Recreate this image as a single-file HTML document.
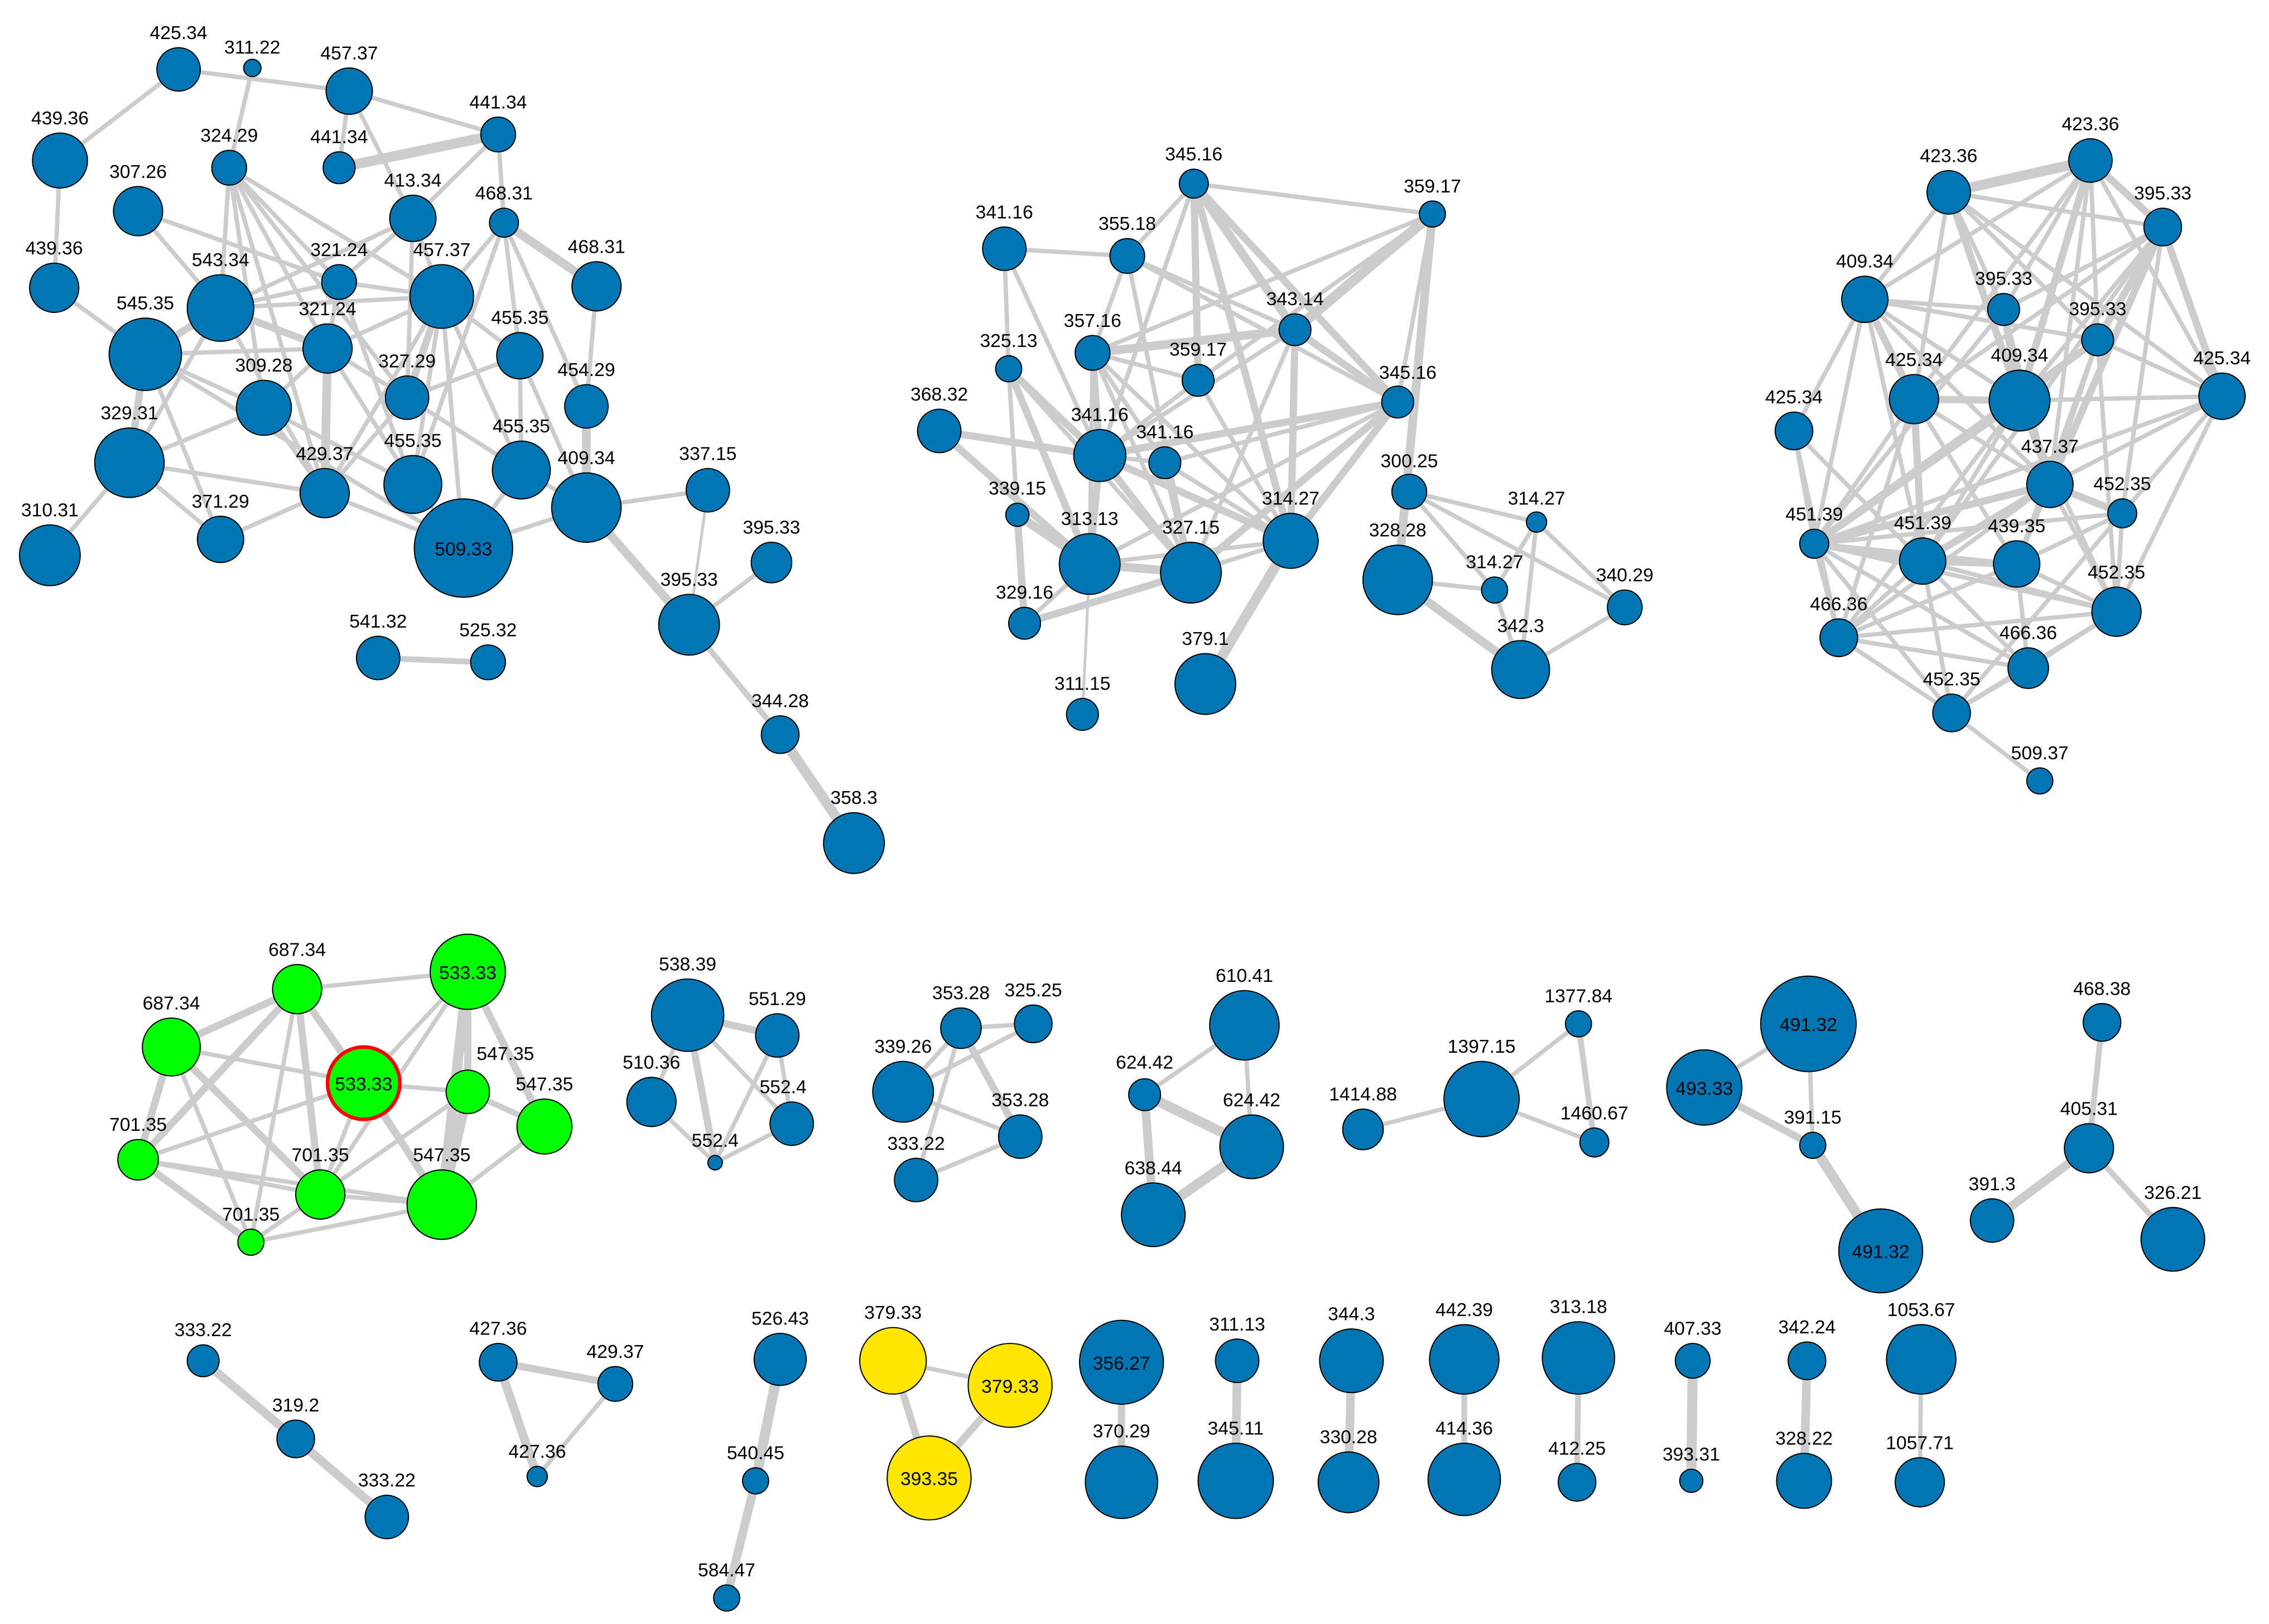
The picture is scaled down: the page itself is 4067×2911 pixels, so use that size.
<!DOCTYPE html>
<html><head><meta charset="utf-8"><style>
html,body{margin:0;padding:0;background:#fff;}
svg{display:block}
text{font-family:"Liberation Sans",Arial,sans-serif;font-size:13px;fill:#000;text-anchor:middle}
.e line{stroke:#cccccc;stroke-width:3}
.b circle{fill:#0077b4;stroke:#000;stroke-width:0.8}
</style></head><body>
<svg width="4067" height="2911" viewBox="0 0 1568 1123" xmlns="http://www.w3.org/2000/svg">
<rect width="1568" height="1123" fill="#fff"/>
<g class="e">
<!-- cluster 1 -->
<line x1="123" y1="48" x2="41" y2="111"/><line x1="123" y1="48" x2="241" y2="63"/>
<line x1="174" y1="47" x2="158" y2="116"/><line x1="241" y1="63" x2="344" y2="93"/>
<line x1="241" y1="63" x2="234" y2="116"/><line x1="241" y1="63" x2="285" y2="151"/>
<line x1="344" y1="93" x2="234" y2="116" style="stroke-width:7"/><line x1="344" y1="93" x2="285" y2="151"/>
<line x1="344" y1="93" x2="348" y2="154"/><line x1="41" y1="111" x2="37" y2="199"/>
<line x1="95" y1="146" x2="234" y2="195"/><line x1="95" y1="146" x2="152" y2="213"/>
<line x1="158" y1="116" x2="152" y2="213"/><line x1="158" y1="116" x2="234" y2="195"/>
<line x1="158" y1="116" x2="226" y2="241"/><line x1="158" y1="116" x2="182" y2="282"/>
<line x1="158" y1="116" x2="224" y2="341"/><line x1="158" y1="116" x2="305" y2="205"/>
<line x1="158" y1="116" x2="281" y2="275"/>
<line x1="285" y1="151" x2="234" y2="195"/><line x1="285" y1="151" x2="305" y2="205"/>
<line x1="285" y1="151" x2="281" y2="275"/><line x1="285" y1="151" x2="152" y2="213"/>
<line x1="348" y1="154" x2="305" y2="205"/><line x1="348" y1="154" x2="412" y2="198" style="stroke-width:6"/>
<line x1="348" y1="154" x2="359" y2="246"/><line x1="348" y1="154" x2="285" y2="335"/>
<line x1="348" y1="154" x2="405" y2="281"/>
<line x1="234" y1="195" x2="152" y2="213"/><line x1="234" y1="195" x2="226" y2="241"/>
<line x1="234" y1="195" x2="305" y2="205"/><line x1="234" y1="195" x2="285" y2="335"/>
<line x1="152" y1="213" x2="100" y2="245" style="stroke-width:5"/><line x1="152" y1="213" x2="226" y2="241" style="stroke-width:5"/>
<line x1="152" y1="213" x2="224" y2="341"/><line x1="152" y1="213" x2="89" y2="320"/>
<line x1="152" y1="213" x2="305" y2="205"/>
<line x1="37" y1="199" x2="100" y2="245"/>
<line x1="100" y1="245" x2="89" y2="320" style="stroke-width:5"/><line x1="100" y1="245" x2="182" y2="282"/>
<line x1="100" y1="245" x2="320" y2="379"/><line x1="100" y1="245" x2="226" y2="241"/>
<line x1="100" y1="245" x2="152" y2="373"/>
<line x1="226" y1="241" x2="281" y2="275"/><line x1="226" y1="241" x2="224" y2="341" style="stroke-width:6"/>
<line x1="226" y1="241" x2="285" y2="335"/><line x1="226" y1="241" x2="305" y2="205"/>
<line x1="226" y1="241" x2="182" y2="282"/>
<line x1="305" y1="205" x2="281" y2="275" style="stroke-width:5"/><line x1="305" y1="205" x2="285" y2="335"/>
<line x1="305" y1="205" x2="224" y2="341"/><line x1="305" y1="205" x2="359" y2="246"/>
<line x1="305" y1="205" x2="320" y2="379"/><line x1="305" y1="205" x2="360" y2="325"/>
<line x1="359" y1="246" x2="360" y2="325"/><line x1="359" y1="246" x2="405" y2="351"/>
<line x1="359" y1="246" x2="281" y2="275"/>
<line x1="412" y1="198" x2="405" y2="281"/><line x1="405" y1="281" x2="405" y2="351" style="stroke-width:6"/>
<line x1="360" y1="325" x2="405" y2="351"/><line x1="281" y1="275" x2="360" y2="325"/>
<line x1="281" y1="275" x2="224" y2="341"/>
<line x1="89" y1="320" x2="152" y2="373"/><line x1="89" y1="320" x2="34" y2="384"/>
<line x1="89" y1="320" x2="224" y2="341"/><line x1="89" y1="320" x2="182" y2="282"/>
<line x1="224" y1="341" x2="152" y2="373"/><line x1="224" y1="341" x2="320" y2="379"/>
<line x1="182" y1="282" x2="224" y2="341"/><line x1="182" y1="282" x2="285" y2="335"/>
<line x1="285" y1="335" x2="320" y2="379"/><line x1="360" y1="325" x2="320" y2="379"/>
<line x1="405" y1="351" x2="320" y2="379"/><line x1="405" y1="351" x2="489" y2="339"/>
<line x1="405" y1="351" x2="476" y2="432" style="stroke-width:6"/>
<line x1="489" y1="339" x2="476" y2="432" style="stroke-width:2"/><line x1="533" y1="389" x2="476" y2="432"/>
<line x1="476" y1="432" x2="539" y2="508" style="stroke-width:4"/><line x1="539" y1="508" x2="590" y2="583" style="stroke-width:7"/>
<line x1="261" y1="455" x2="337" y2="458" style="stroke-width:4"/>
<!-- cluster 2 -->
<line x1="825" y1="127" x2="990" y2="148"/><line x1="825" y1="127" x2="779" y2="177"/>
<line x1="825" y1="127" x2="895" y2="228" style="stroke-width:6"/><line x1="825" y1="127" x2="966" y2="278" style="stroke-width:5"/>
<line x1="825" y1="127" x2="892" y2="374" style="stroke-width:5"/><line x1="825" y1="127" x2="828" y2="263" style="stroke-width:5"/>
<line x1="825" y1="127" x2="760" y2="315"/>
<line x1="990" y1="148" x2="895" y2="228" style="stroke-width:7"/><line x1="990" y1="148" x2="755" y2="244"/>
<line x1="990" y1="148" x2="966" y2="278"/><line x1="990" y1="148" x2="966" y2="401" style="stroke-width:6"/>
<line x1="990" y1="148" x2="828" y2="263"/>
<line x1="694" y1="172" x2="779" y2="177"/><line x1="694" y1="172" x2="697" y2="255"/>
<line x1="694" y1="172" x2="760" y2="315"/>
<line x1="779" y1="177" x2="755" y2="244"/><line x1="779" y1="177" x2="966" y2="278"/>
<line x1="779" y1="177" x2="823" y2="396"/><line x1="779" y1="177" x2="895" y2="228"/>
<line x1="895" y1="228" x2="755" y2="244" style="stroke-width:6"/><line x1="895" y1="228" x2="760" y2="315"/>
<line x1="895" y1="228" x2="892" y2="374" style="stroke-width:5"/><line x1="895" y1="228" x2="966" y2="278" style="stroke-width:5"/>
<line x1="895" y1="228" x2="823" y2="396"/>
<line x1="755" y1="244" x2="828" y2="263"/><line x1="755" y1="244" x2="760" y2="315" style="stroke-width:5"/>
<line x1="755" y1="244" x2="823" y2="396"/><line x1="755" y1="244" x2="892" y2="374"/>
<line x1="755" y1="244" x2="805" y2="320"/><line x1="755" y1="244" x2="753" y2="390"/>
<line x1="828" y1="263" x2="760" y2="315"/><line x1="828" y1="263" x2="892" y2="374"/>
<line x1="697" y1="255" x2="760" y2="315" style="stroke-width:5"/><line x1="697" y1="255" x2="703" y2="356"/>
<line x1="697" y1="255" x2="753" y2="390" style="stroke-width:5"/><line x1="697" y1="255" x2="823" y2="396"/>
<line x1="966" y1="278" x2="760" y2="315" style="stroke-width:5"/><line x1="966" y1="278" x2="805" y2="320"/>
<line x1="966" y1="278" x2="892" y2="374" style="stroke-width:5"/><line x1="966" y1="278" x2="753" y2="390"/>
<line x1="966" y1="278" x2="823" y2="396" style="stroke-width:5"/>
<line x1="649" y1="298" x2="760" y2="315" style="stroke-width:5"/><line x1="649" y1="298" x2="753" y2="390" style="stroke-width:5"/>
<line x1="760" y1="315" x2="805" y2="320"/><line x1="760" y1="315" x2="892" y2="374" style="stroke-width:5"/>
<line x1="760" y1="315" x2="753" y2="390" style="stroke-width:5"/><line x1="760" y1="315" x2="823" y2="396" style="stroke-width:5"/>
<line x1="805" y1="320" x2="823" y2="396" style="stroke-width:5"/><line x1="805" y1="320" x2="892" y2="374"/>
<line x1="892" y1="374" x2="833" y2="473" style="stroke-width:7"/><line x1="892" y1="374" x2="823" y2="396"/>
<line x1="892" y1="374" x2="753" y2="390"/>
<line x1="753" y1="390" x2="823" y2="396" style="stroke-width:6"/><line x1="703" y1="356" x2="708" y2="431" style="stroke-width:5"/>
<line x1="703" y1="356" x2="753" y2="390" style="stroke-width:6"/><line x1="708" y1="431" x2="823" y2="396" style="stroke-width:5"/>
<line x1="753" y1="390" x2="748" y2="494" style="stroke-width:2"/><line x1="708" y1="431" x2="753" y2="390"/>
<line x1="966" y1="401" x2="1051" y2="463" style="stroke-width:6"/><line x1="974" y1="340" x2="1033" y2="408"/>
<line x1="974" y1="340" x2="1123" y2="420"/><line x1="1062" y1="361" x2="1033" y2="408"/>
<line x1="1062" y1="361" x2="1123" y2="420"/><line x1="1062" y1="361" x2="1051" y2="463"/>
<line x1="1033" y1="408" x2="1051" y2="463"/><line x1="1123" y1="420" x2="1051" y2="463"/>
<line x1="966" y1="401" x2="1033" y2="408"/><line x1="974" y1="340" x2="1062" y2="361"/>
<!-- cluster 3 -->
<line x1="1347" y1="133" x2="1445" y2="111" style="stroke-width:7"/><line x1="1347" y1="133" x2="1289" y2="207"/>
<line x1="1347" y1="133" x2="1385" y2="214"/><line x1="1347" y1="133" x2="1396" y2="277" style="stroke-width:5"/>
<line x1="1347" y1="133" x2="1450" y2="235"/><line x1="1347" y1="133" x2="1536" y2="274"/>
<line x1="1347" y1="133" x2="1323" y2="276"/><line x1="1347" y1="133" x2="1495" y2="157"/>
<line x1="1445" y1="111" x2="1495" y2="157" style="stroke-width:5"/><line x1="1445" y1="111" x2="1289" y2="207"/>
<line x1="1445" y1="111" x2="1385" y2="214"/><line x1="1445" y1="111" x2="1450" y2="235"/>
<line x1="1445" y1="111" x2="1396" y2="277" style="stroke-width:5"/><line x1="1445" y1="111" x2="1536" y2="274"/>
<line x1="1445" y1="111" x2="1323" y2="276"/><line x1="1445" y1="111" x2="1417" y2="335"/>
<line x1="1495" y1="157" x2="1385" y2="214"/><line x1="1495" y1="157" x2="1450" y2="235" style="stroke-width:5"/>
<line x1="1495" y1="157" x2="1396" y2="277"/><line x1="1495" y1="157" x2="1536" y2="274" style="stroke-width:5"/>
<line x1="1495" y1="157" x2="1417" y2="335" style="stroke-width:5"/><line x1="1495" y1="157" x2="1329" y2="388"/>
<line x1="1495" y1="157" x2="1467" y2="355"/><line x1="1495" y1="157" x2="1323" y2="276"/>
<line x1="1289" y1="207" x2="1385" y2="214"/><line x1="1289" y1="207" x2="1323" y2="276" style="stroke-width:5"/>
<line x1="1289" y1="207" x2="1396" y2="277"/><line x1="1289" y1="207" x2="1240" y2="298"/>
<line x1="1289" y1="207" x2="1254" y2="376"/><line x1="1289" y1="207" x2="1417" y2="335"/>
<line x1="1289" y1="207" x2="1450" y2="235"/><line x1="1289" y1="207" x2="1329" y2="388"/>
<line x1="1385" y1="214" x2="1396" y2="277" style="stroke-width:5"/><line x1="1385" y1="214" x2="1254" y2="376"/>
<line x1="1385" y1="214" x2="1417" y2="335"/>
<line x1="1450" y1="235" x2="1396" y2="277"/><line x1="1450" y1="235" x2="1536" y2="274"/>
<line x1="1450" y1="235" x2="1417" y2="335"/><line x1="1450" y1="235" x2="1254" y2="376" style="stroke-width:5"/>
<line x1="1450" y1="235" x2="1394" y2="390"/><line x1="1450" y1="235" x2="1463" y2="423"/>
<line x1="1323" y1="276" x2="1396" y2="277" style="stroke-width:5"/><line x1="1323" y1="276" x2="1254" y2="376"/>
<line x1="1323" y1="276" x2="1329" y2="388" style="stroke-width:5"/><line x1="1323" y1="276" x2="1417" y2="335"/>
<line x1="1323" y1="276" x2="1394" y2="390"/><line x1="1323" y1="276" x2="1271" y2="441"/>
<line x1="1396" y1="277" x2="1254" y2="376" style="stroke-width:5"/><line x1="1396" y1="277" x2="1329" y2="388"/>
<line x1="1396" y1="277" x2="1417" y2="335"/><line x1="1396" y1="277" x2="1536" y2="274"/>
<line x1="1396" y1="277" x2="1463" y2="423"/><line x1="1396" y1="277" x2="1271" y2="441"/>
<line x1="1536" y1="274" x2="1417" y2="335"/><line x1="1536" y1="274" x2="1467" y2="355"/>
<line x1="1536" y1="274" x2="1463" y2="423"/><line x1="1536" y1="274" x2="1254" y2="376"/>
<line x1="1240" y1="298" x2="1254" y2="376"/><line x1="1240" y1="298" x2="1271" y2="441"/>
<line x1="1240" y1="298" x2="1329" y2="388"/>
<line x1="1417" y1="335" x2="1254" y2="376" style="stroke-width:5"/><line x1="1417" y1="335" x2="1329" y2="388" style="stroke-width:5"/>
<line x1="1417" y1="335" x2="1467" y2="355" style="stroke-width:5"/><line x1="1417" y1="335" x2="1463" y2="423"/>
<line x1="1417" y1="335" x2="1271" y2="441"/><line x1="1417" y1="335" x2="1394" y2="390"/>
<line x1="1467" y1="355" x2="1254" y2="376"/><line x1="1467" y1="355" x2="1463" y2="423"/>
<line x1="1467" y1="355" x2="1349" y2="493"/><line x1="1467" y1="355" x2="1394" y2="390"/>
<line x1="1254" y1="376" x2="1329" y2="388" style="stroke-width:5"/><line x1="1254" y1="376" x2="1394" y2="390"/>
<line x1="1254" y1="376" x2="1271" y2="441"/><line x1="1254" y1="376" x2="1463" y2="423"/>
<line x1="1254" y1="376" x2="1402" y2="462"/><line x1="1254" y1="376" x2="1349" y2="493"/>
<line x1="1329" y1="388" x2="1394" y2="390" style="stroke-width:5"/><line x1="1329" y1="388" x2="1271" y2="441"/>
<line x1="1329" y1="388" x2="1463" y2="423"/><line x1="1329" y1="388" x2="1402" y2="462"/>
<line x1="1329" y1="388" x2="1349" y2="493"/>
<line x1="1394" y1="390" x2="1463" y2="423"/><line x1="1394" y1="390" x2="1271" y2="441"/>
<line x1="1394" y1="390" x2="1402" y2="462"/>
<line x1="1463" y1="423" x2="1271" y2="441"/><line x1="1463" y1="423" x2="1402" y2="462"/>
<line x1="1463" y1="423" x2="1349" y2="493"/>
<line x1="1271" y1="441" x2="1402" y2="462"/><line x1="1271" y1="441" x2="1349" y2="493"/>
<line x1="1402" y1="462" x2="1349" y2="493"/><line x1="1349" y1="493" x2="1410" y2="540"/>
<!-- green -->
<line x1="205" y1="684" x2="323" y2="672"/><line x1="205" y1="684" x2="118" y2="724" style="stroke-width:5"/>
<line x1="205" y1="684" x2="251" y2="749" style="stroke-width:5"/><line x1="205" y1="684" x2="95" y2="802" style="stroke-width:5"/>
<line x1="205" y1="684" x2="221" y2="826" style="stroke-width:5"/><line x1="205" y1="684" x2="305" y2="833"/>
<line x1="205" y1="684" x2="173" y2="859"/>
<line x1="323" y1="672" x2="323" y2="755" style="stroke-width:5"/><line x1="323" y1="672" x2="376" y2="779" style="stroke-width:5"/>
<line x1="323" y1="672" x2="305" y2="833" style="stroke-width:7"/><line x1="323" y1="672" x2="251" y2="749"/>
<line x1="323" y1="672" x2="221" y2="826"/>
<line x1="118" y1="724" x2="251" y2="749"/><line x1="118" y1="724" x2="95" y2="802" style="stroke-width:5"/>
<line x1="118" y1="724" x2="221" y2="826" style="stroke-width:5"/><line x1="118" y1="724" x2="173" y2="859"/>
<line x1="251" y1="749" x2="323" y2="755"/><line x1="251" y1="749" x2="305" y2="833" style="stroke-width:5"/>
<line x1="251" y1="749" x2="221" y2="826"/><line x1="251" y1="749" x2="95" y2="802"/>
<line x1="323" y1="755" x2="376" y2="779" style="stroke-width:4"/><line x1="323" y1="755" x2="305" y2="833" style="stroke-width:7"/>
<line x1="323" y1="755" x2="221" y2="826"/><line x1="376" y1="779" x2="305" y2="833"/>
<line x1="95" y1="802" x2="221" y2="826"/><line x1="95" y1="802" x2="173" y2="859" style="stroke-width:5"/>
<line x1="95" y1="802" x2="305" y2="833"/><line x1="221" y1="826" x2="305" y2="833"/>
<line x1="221" y1="826" x2="173" y2="859"/><line x1="173" y1="859" x2="305" y2="833"/>
<!-- blue small clusters -->
<line x1="475" y1="702" x2="537" y2="716" style="stroke-width:5"/><line x1="475" y1="702" x2="450" y2="762"/>
<line x1="475" y1="702" x2="547" y2="777"/><line x1="475" y1="702" x2="494" y2="804" style="stroke-width:5"/>
<line x1="537" y1="716" x2="547" y2="777"/><line x1="537" y1="716" x2="494" y2="804"/>
<line x1="450" y1="762" x2="494" y2="804"/><line x1="547" y1="777" x2="494" y2="804"/>
<line x1="664" y1="711" x2="714" y2="708"/><line x1="664" y1="711" x2="624" y2="755"/>
<line x1="664" y1="711" x2="705" y2="786" style="stroke-width:5"/><line x1="664" y1="711" x2="633" y2="816"/>
<line x1="714" y1="708" x2="624" y2="755"/><line x1="624" y1="755" x2="705" y2="786"/>
<line x1="633" y1="816" x2="705" y2="786"/>
<line x1="860" y1="709" x2="791" y2="757"/><line x1="860" y1="709" x2="865" y2="793"/>
<line x1="791" y1="757" x2="865" y2="793" style="stroke-width:7"/><line x1="791" y1="757" x2="797" y2="840" style="stroke-width:6"/>
<line x1="865" y1="793" x2="797" y2="840" style="stroke-width:7"/>
<line x1="942" y1="781" x2="1024" y2="760"/><line x1="1024" y1="760" x2="1091" y2="708"/>
<line x1="1024" y1="760" x2="1102" y2="790"/><line x1="1091" y1="708" x2="1102" y2="790" style="stroke-width:4"/>
<line x1="1250" y1="708" x2="1178" y2="752"/><line x1="1250" y1="708" x2="1253" y2="792"/>
<line x1="1178" y1="752" x2="1253" y2="792" style="stroke-width:5"/><line x1="1253" y1="792" x2="1300" y2="865" style="stroke-width:7"/>
<line x1="1453" y1="707" x2="1444" y2="794" style="stroke-width:4"/><line x1="1444" y1="794" x2="1377" y2="844" style="stroke-width:6"/>
<line x1="1444" y1="794" x2="1502" y2="857" style="stroke-width:4"/>
<line x1="140" y1="941" x2="204" y2="995" style="stroke-width:6"/><line x1="204" y1="995" x2="267" y2="1049" style="stroke-width:6"/>
<line x1="344" y1="942" x2="425" y2="957" style="stroke-width:5"/><line x1="344" y1="942" x2="371" y2="1021" style="stroke-width:6"/>
<line x1="425" y1="957" x2="371" y2="1021"/>
<line x1="539" y1="940" x2="522" y2="1024" style="stroke-width:7"/><line x1="522" y1="1024" x2="502" y2="1105" style="stroke-width:6"/>
<line x1="617" y1="941" x2="698" y2="958"/><line x1="617" y1="941" x2="642" y2="1022" style="stroke-width:5"/>
<line x1="698" y1="958" x2="642" y2="1022" style="stroke-width:5"/>
<line x1="775" y1="942" x2="775" y2="1025" style="stroke-width:5"/><line x1="855" y1="941" x2="854" y2="1024" style="stroke-width:6"/>
<line x1="934" y1="941" x2="932" y2="1025" style="stroke-width:6"/><line x1="1012" y1="940" x2="1012" y2="1023" style="stroke-width:4"/>
<line x1="1091" y1="939" x2="1090" y2="1025" style="stroke-width:4"/><line x1="1170" y1="941" x2="1169" y2="1024" style="stroke-width:7"/>
<line x1="1249" y1="941" x2="1247" y2="1024" style="stroke-width:6"/><line x1="1328" y1="940" x2="1327" y2="1025" style="stroke-width:3"/>
</g>
<g class="b">
<circle cx="123" cy="48" r="15"/><circle cx="174" cy="47" r="6"/><circle cx="241" cy="63" r="16"/>
<circle cx="344" cy="93" r="12"/><circle cx="41" cy="111" r="19"/><circle cx="158" cy="116" r="12"/>
<circle cx="234" cy="116" r="11"/><circle cx="95" cy="146" r="17"/><circle cx="285" cy="151" r="16"/>
<circle cx="348" cy="154" r="10"/><circle cx="234" cy="195" r="12"/><circle cx="37" cy="199" r="17"/>
<circle cx="152" cy="213" r="23"/><circle cx="305" cy="205" r="22"/><circle cx="412" cy="198" r="17"/>
<circle cx="100" cy="245" r="25"/><circle cx="226" cy="241" r="17"/><circle cx="359" cy="246" r="16"/>
<circle cx="182" cy="282" r="19"/><circle cx="281" cy="275" r="15"/><circle cx="405" cy="281" r="15"/>
<circle cx="89" cy="320" r="24"/><circle cx="224" cy="341" r="17"/><circle cx="285" cy="335" r="20"/>
<circle cx="360" cy="325" r="20"/><circle cx="405" cy="351" r="24"/><circle cx="34" cy="384" r="21"/>
<circle cx="152" cy="373" r="16"/><circle cx="320" cy="379" r="34"/><circle cx="489" cy="339" r="15"/>
<circle cx="533" cy="389" r="14"/><circle cx="476" cy="432" r="21"/><circle cx="261" cy="455" r="15"/>
<circle cx="337" cy="458" r="12"/><circle cx="539" cy="508" r="13"/><circle cx="590" cy="583" r="21"/>
<circle cx="825" cy="127" r="10"/><circle cx="990" cy="148" r="9"/><circle cx="694" cy="172" r="15"/>
<circle cx="779" cy="177" r="12"/><circle cx="895" cy="228" r="11"/><circle cx="755" cy="244" r="12"/>
<circle cx="828" cy="263" r="11"/><circle cx="697" cy="255" r="9"/><circle cx="966" cy="278" r="11"/>
<circle cx="649" cy="298" r="15"/><circle cx="760" cy="315" r="18"/><circle cx="805" cy="320" r="11"/>
<circle cx="974" cy="340" r="12"/><circle cx="1062" cy="361" r="7"/><circle cx="703" cy="356" r="8"/>
<circle cx="753" cy="390" r="21"/><circle cx="823" cy="396" r="21"/><circle cx="892" cy="374" r="19"/>
<circle cx="966" cy="401" r="24"/><circle cx="1033" cy="408" r="9"/><circle cx="1123" cy="420" r="12"/>
<circle cx="708" cy="431" r="11"/><circle cx="833" cy="473" r="21"/><circle cx="1051" cy="463" r="20"/>
<circle cx="748" cy="494" r="11"/>
<circle cx="1347" cy="133" r="15"/><circle cx="1445" cy="111" r="15"/><circle cx="1495" cy="157" r="13"/>
<circle cx="1289" cy="207" r="16"/><circle cx="1385" cy="214" r="11"/><circle cx="1450" cy="235" r="11"/>
<circle cx="1323" cy="276" r="17"/><circle cx="1396" cy="277" r="21"/><circle cx="1536" cy="274" r="16"/>
<circle cx="1240" cy="298" r="13"/><circle cx="1417" cy="335" r="16"/><circle cx="1467" cy="355" r="10"/>
<circle cx="1254" cy="376" r="10"/><circle cx="1329" cy="388" r="16"/><circle cx="1394" cy="390" r="16"/>
<circle cx="1463" cy="423" r="17"/><circle cx="1271" cy="441" r="13"/><circle cx="1402" cy="462" r="14"/>
<circle cx="1349" cy="493" r="13"/><circle cx="1410" cy="540" r="9"/>
<circle cx="475" cy="702" r="25"/><circle cx="537" cy="716" r="15"/><circle cx="450" cy="762" r="17"/>
<circle cx="547" cy="777" r="15"/><circle cx="494" cy="804" r="5"/>
<circle cx="664" cy="711" r="14"/><circle cx="714" cy="708" r="13"/><circle cx="624" cy="755" r="21"/>
<circle cx="705" cy="786" r="15"/><circle cx="633" cy="816" r="15"/>
<circle cx="860" cy="709" r="24"/><circle cx="791" cy="757" r="11"/><circle cx="865" cy="793" r="22"/>
<circle cx="797" cy="840" r="22"/>
<circle cx="942" cy="781" r="14"/><circle cx="1024" cy="760" r="26"/><circle cx="1091" cy="708" r="9"/>
<circle cx="1102" cy="790" r="10"/>
<circle cx="1250" cy="708" r="33"/><circle cx="1178" cy="752" r="26"/><circle cx="1253" cy="792" r="9"/>
<circle cx="1300" cy="865" r="29"/>
<circle cx="1453" cy="707" r="13"/><circle cx="1444" cy="794" r="17"/><circle cx="1377" cy="844" r="15"/>
<circle cx="1502" cy="857" r="22"/>
<circle cx="140" cy="941" r="11"/><circle cx="204" cy="995" r="13"/><circle cx="267" cy="1049" r="15"/>
<circle cx="344" cy="942" r="13"/><circle cx="425" cy="957" r="12"/><circle cx="371" cy="1021" r="7"/>
<circle cx="539" cy="940" r="18"/><circle cx="522" cy="1024" r="9"/><circle cx="502" cy="1105" r="9"/>
<circle cx="775" cy="942" r="29"/><circle cx="775" cy="1025" r="25"/>
<circle cx="855" cy="941" r="15"/><circle cx="854" cy="1024" r="26"/>
<circle cx="934" cy="941" r="22"/><circle cx="932" cy="1025" r="21"/>
<circle cx="1012" cy="940" r="24"/><circle cx="1012" cy="1023" r="25"/>
<circle cx="1091" cy="939" r="25"/><circle cx="1090" cy="1025" r="13"/>
<circle cx="1170" cy="941" r="12"/><circle cx="1169" cy="1024" r="8"/>
<circle cx="1249" cy="941" r="13"/><circle cx="1247" cy="1024" r="19"/>
<circle cx="1328" cy="940" r="24"/><circle cx="1327" cy="1025" r="17"/>
</g>
<g style="fill:#00ff00;stroke:#000;stroke-width:0.8">
<circle cx="205" cy="684" r="17"/><circle cx="323" cy="672" r="26"/><circle cx="118" cy="724" r="20"/>
<circle cx="323" cy="755" r="15"/><circle cx="376" cy="779" r="19"/><circle cx="95" cy="802" r="14"/>
<circle cx="221" cy="826" r="17"/><circle cx="305" cy="833" r="24"/><circle cx="173" cy="859" r="9"/>
<circle cx="251" cy="749" r="25" style="stroke:#ff0000;stroke-width:2.5"/>
</g>
<g style="fill:#ffe600;stroke:#000;stroke-width:0.8">
<circle cx="617" cy="941" r="23"/><circle cx="698" cy="958" r="29"/><circle cx="642" cy="1022" r="29"/>
</g>
<g>
<text x="123" y="27">425.34</text><text x="174" y="37">311.22</text><text x="241" y="41">457.37</text>
<text x="344" y="75">441.34</text><text x="41" y="86">439.36</text><text x="158" y="98">324.29</text>
<text x="234" y="99">441.34</text><text x="95" y="123">307.26</text><text x="285" y="129">413.34</text>
<text x="348" y="138">468.31</text><text x="234" y="177">321.24</text><text x="37" y="176">439.36</text>
<text x="152" y="184">543.34</text><text x="305" y="177">457.37</text><text x="412" y="175">468.31</text>
<text x="100" y="214">545.35</text><text x="226" y="218">321.24</text><text x="359" y="224">455.35</text>
<text x="182" y="257">309.28</text><text x="281" y="254">327.29</text><text x="405" y="260">454.29</text>
<text x="89" y="290">329.31</text><text x="224" y="318">429.37</text><text x="285" y="309">455.35</text>
<text x="360" y="299">455.35</text><text x="405" y="321">409.34</text><text x="34" y="357">310.31</text>
<text x="152" y="351">371.29</text><text x="320" y="384">509.33</text><text x="489" y="318">337.15</text>
<text x="533" y="369">395.33</text><text x="476" y="405">395.33</text><text x="261" y="434">541.32</text>
<text x="337" y="440">525.32</text><text x="539" y="489">344.28</text><text x="590" y="556">358.3</text>
<text x="825" y="111">345.16</text><text x="990" y="133">359.17</text><text x="694" y="151">341.16</text>
<text x="779" y="159">355.18</text><text x="895" y="211">343.14</text><text x="755" y="226">357.16</text>
<text x="828" y="246">359.17</text><text x="697" y="240">325.13</text><text x="973" y="262">345.16</text>
<text x="649" y="277">368.32</text><text x="760" y="291">341.16</text><text x="805" y="303">341.16</text>
<text x="974" y="323">300.25</text><text x="1062" y="349">314.27</text><text x="703" y="342">339.15</text>
<text x="753" y="363">313.13</text><text x="823" y="369">327.15</text><text x="892" y="349">314.27</text>
<text x="966" y="371">328.28</text><text x="1033" y="393">314.27</text><text x="1123" y="402">340.29</text>
<text x="708" y="414">329.16</text><text x="833" y="446">379.1</text><text x="1051" y="437">342.3</text>
<text x="748" y="477">311.15</text>
<text x="1347" y="112">423.36</text><text x="1445" y="90">423.36</text><text x="1495" y="138">395.33</text>
<text x="1289" y="185">409.34</text><text x="1385" y="197">395.33</text><text x="1450" y="218">395.33</text>
<text x="1323" y="253">425.34</text><text x="1396" y="250">409.34</text><text x="1536" y="252">425.34</text>
<text x="1240" y="279">425.34</text><text x="1417" y="313">437.37</text><text x="1467" y="339">452.35</text>
<text x="1254" y="360">451.39</text><text x="1329" y="366">451.39</text><text x="1394" y="368">439.35</text>
<text x="1463" y="400">452.35</text><text x="1271" y="422">466.36</text><text x="1402" y="442">466.36</text>
<text x="1349" y="474">452.35</text><text x="1410" y="525">509.37</text>
<text x="205" y="661">687.34</text><text x="323" y="677">533.33</text><text x="118" y="698">687.34</text>
<text x="251" y="754">533.33</text><text x="349" y="733">547.35</text><text x="376" y="754">547.35</text>
<text x="95" y="782">701.35</text><text x="221" y="803">701.35</text><text x="305" y="803">547.35</text>
<text x="173" y="844">701.35</text>
<text x="475" y="671">538.39</text><text x="537" y="695">551.29</text><text x="450" y="739">510.36</text>
<text x="541" y="756">552.4</text><text x="494" y="793">552.4</text>
<text x="664" y="691">353.28</text><text x="714" y="689">325.25</text><text x="624" y="728">339.26</text>
<text x="705" y="765">353.28</text><text x="633" y="795">333.22</text>
<text x="860" y="679">610.41</text><text x="791" y="739">624.42</text><text x="865" y="765">624.42</text>
<text x="797" y="812">638.44</text>
<text x="942" y="761">1414.88</text><text x="1024" y="728">1397.15</text><text x="1091" y="693">1377.84</text>
<text x="1102" y="774">1460.67</text>
<text x="1250" y="713">491.32</text><text x="1178" y="757">493.33</text><text x="1253" y="777">391.15</text>
<text x="1300" y="870">491.32</text>
<text x="1453" y="688">468.38</text><text x="1444" y="771">405.31</text><text x="1377" y="823">391.3</text>
<text x="1502" y="829">326.21</text>
<text x="140" y="924">333.22</text><text x="204" y="976">319.2</text><text x="267" y="1028">333.22</text>
<text x="344" y="923">427.36</text><text x="425" y="939">429.37</text><text x="371" y="1008">427.36</text>
<text x="539" y="916">526.43</text><text x="522" y="1009">540.45</text><text x="502" y="1090">584.47</text>
<text x="617" y="912">379.33</text><text x="698" y="963">379.33</text><text x="642" y="1027">393.35</text>
<text x="775" y="947">356.27</text><text x="775" y="994">370.29</text>
<text x="855" y="920">311.13</text><text x="854" y="992">345.11</text>
<text x="934" y="913">344.3</text><text x="932" y="998">330.28</text>
<text x="1012" y="910">442.39</text><text x="1012" y="992">414.36</text>
<text x="1091" y="908">313.18</text><text x="1090" y="1006">412.25</text>
<text x="1170" y="923">407.33</text><text x="1169" y="1010">393.31</text>
<text x="1249" y="922">342.24</text><text x="1247" y="999">328.22</text>
<text x="1328" y="910">1053.67</text><text x="1327" y="1002">1057.71</text>
</g>
</svg>
</body></html>
